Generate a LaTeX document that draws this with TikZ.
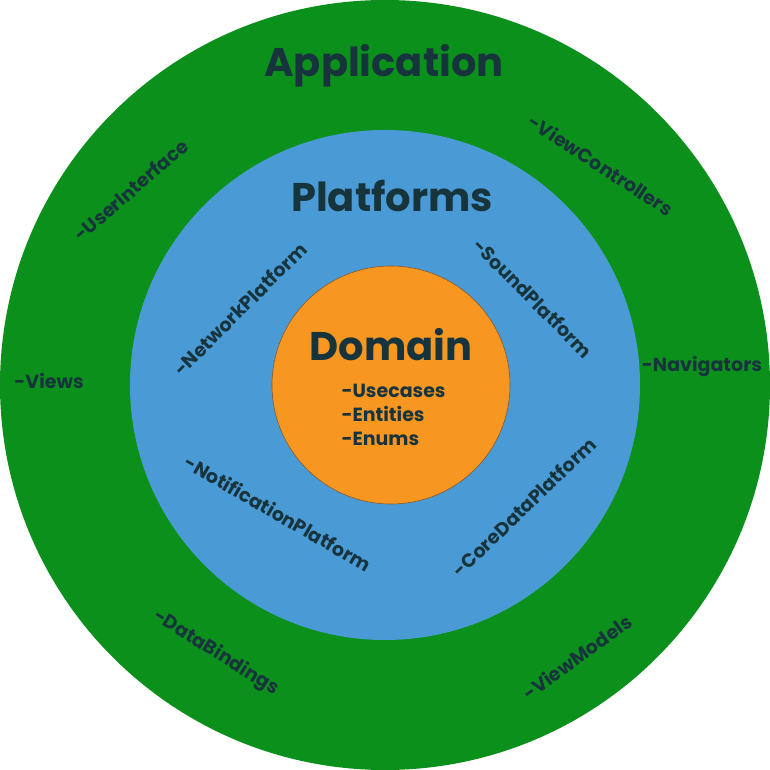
\documentclass[tikz,border=0pt]{standalone}
\usepackage{fontspec}
\setmainfont{Poppins}
\definecolor{appgreen}{HTML}{0C901C}
\definecolor{platblue}{HTML}{4A9BD5}
\definecolor{domorange}{HTML}{F89622}
\definecolor{inktext}{HTML}{17343D}

\begin{document}
\begin{tikzpicture}[x=1pt, y=1pt,
    every node/.style={text=inktext, font=\bfseries},
    ring/.style={circle, inner sep=0pt},
    title/.style={font=\bfseries\fontsize{40}{46}\selectfont},
    item/.style={font=\bfseries\fontsize{19}{24}\selectfont}]
    \useasboundingbox (-385,-385) rectangle (385,385);
    \node[ring, fill=appgreen, minimum size=770] (app) at (0,0) {};
    \node[ring, fill=platblue, minimum size=510] (plat) at (0,0) {};
    \node[ring, fill=domorange, draw=brown!70!black, line width=0.6, minimum size=238] (dom) at (6,0) {};

    \node[title] (apptitle) at (-1,319) {Application};
    \node[title] (plattitle) at (7,189) {Platforms};
    \node[title] (domtitle) at (6,40) {Domain};

    % domain items
    \node[item, anchor=west, align=left] (domitems) at (-47,-30) {-Usecases\\-Entities\\-Enums};

    % platforms
    \node[item, rotate=45] (network) at (-145,76) {-NetworkPlatform};
    \node[item, rotate=-45] (sound) at (148,87) {-SoundPlatform};
    \node[item, rotate=-30] (notif) at (-107,-128) {-NotificationPlatform};
    \node[item, rotate=44] (coredata) at (139,-122) {-CoreDataPlatform};

    % application
    \node[item] (views) at (-336,4) {-Views};
    \node[item] (navig) at (317,18) {-Navigators};
    \node[item, rotate=41] (ui) at (-254,195) {-UserInterface};
    \node[item, rotate=-33] (vc) at (216,220) {-ViewControllers};
    \node[item, rotate=-32] (bind) at (-169,-268) {-DataBindings};
    \node[item, rotate=36] (vm) at (192,-272) {-ViewModels};
\end{tikzpicture}
\end{document}
